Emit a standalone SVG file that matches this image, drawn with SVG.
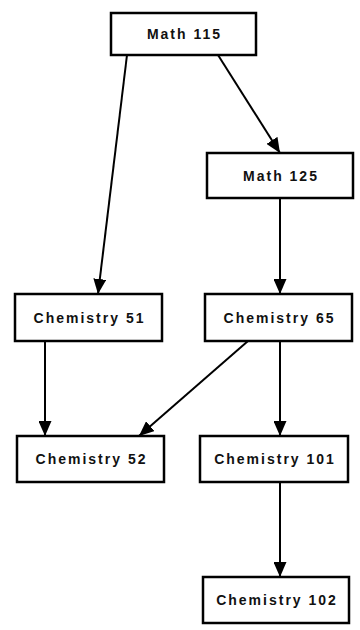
<svg xmlns="http://www.w3.org/2000/svg" width="360" height="630" viewBox="0 0 360 630">
<style>
.box{fill:#fff;stroke:#000;stroke-width:2.5}
.lbl{font-family:"Liberation Sans",Arial,sans-serif;font-weight:bold;font-size:14px;letter-spacing:2px;text-anchor:middle;fill:#111}
.edge{stroke:#000;stroke-width:2;fill:none;marker-end:url(#ah)}
</style>
<defs>
<marker id="ah" markerUnits="userSpaceOnUse" markerWidth="16" markerHeight="13" refX="15" refY="6.5" orient="auto">
<path d="M0,0 L15,6.5 L0,13 z" fill="#000"/>
</marker>
</defs>
<rect width="360" height="630" fill="#fff"/>
<g id="edges">
<line class="edge" x1="127" y1="55" x2="98" y2="294"/>
<line class="edge" x1="218" y1="55" x2="280" y2="153"/>
<line class="edge" x1="280" y1="198" x2="280" y2="294"/>
<line class="edge" x1="45" y1="341" x2="45" y2="436"/>
<line class="edge" x1="248" y1="341" x2="139" y2="436"/>
<line class="edge" x1="280" y1="341" x2="280" y2="436"/>
<line class="edge" x1="280" y1="482" x2="280" y2="577"/>
</g>
<g id="math115"><rect class="box" x="111" y="13" width="145" height="42"/><text class="lbl" x="184.5" y="39">Math 115</text></g>
<g id="math125"><rect class="box" x="207" y="153" width="146" height="45"/><text class="lbl" x="281" y="180.5">Math 125</text></g>
<g id="chem51"><rect class="box" x="15" y="294" width="147" height="47"/><text class="lbl" x="89.5" y="322.5">Chemistry 51</text></g>
<g id="chem65"><rect class="box" x="205" y="294" width="147" height="47"/><text class="lbl" x="279.5" y="322.5">Chemistry 65</text></g>
<g id="chem52"><rect class="box" x="17" y="436" width="147" height="46"/><text class="lbl" x="91.5" y="464">Chemistry 52</text></g>
<g id="chem101"><rect class="box" x="200" y="436" width="148" height="46"/><text class="lbl" x="275" y="464">Chemistry 101</text></g>
<g id="chem102"><rect class="box" x="203" y="577" width="146" height="46"/><text class="lbl" x="277" y="605">Chemistry 102</text></g>
</svg>
